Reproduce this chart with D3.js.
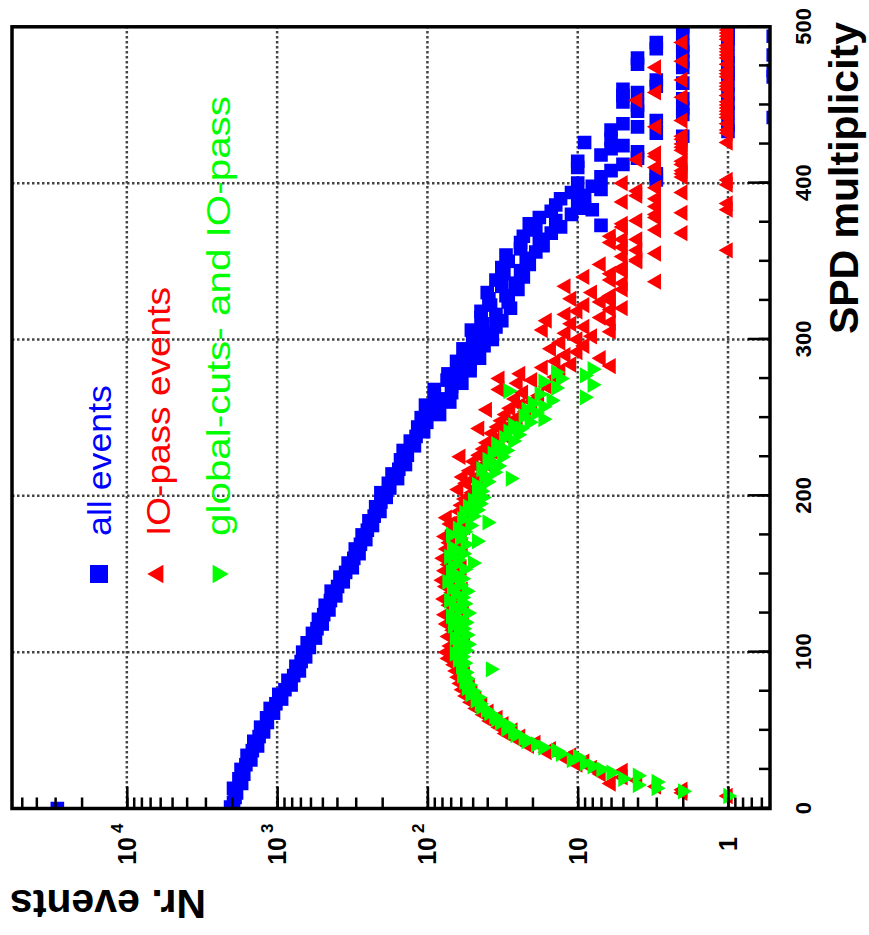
<!DOCTYPE html>
<html>
<head>
<meta charset="utf-8">
<script src="https://cdn.jsdelivr.net/npm/d3@7"></script>
<style>
  body { margin: 0; background: #fff; }
  text { font-family: "Liberation Sans", Arial, Helvetica, sans-serif; }
</style>
</head>
<body>
<svg id="chart" width="869" height="935"></svg>
<script>
// axis values
const xTicks = [0, 100, 200, 300, 400, 500];
const xGrid = [100, 200, 300, 400];
const yTicks = [1, 10, 100, 1000, 10000];
const yExp = ["", "", "2", "3", "4"];
const seriesNames = ["all events", "IO-pass events", "global-cuts- and IO-pass"];

// [SPD multiplicity, Nr. events]
const allEvents = [[0,29000],
[1,2040],[4,1950],[7,1905],[10,1862],[13,1950],[16,1722],[19,1795],[22,1667],[25,1738],[28,1614],[31,1496],[34,1585],[37,1462],[40,1349],[43,1429],[46,1318],[49,1230],[52,1288],[55,1161],[58,1175],[61,1057],[64,1112],[67,1019],[70,933],[73,975],[76,887],[79,807],[82,847],[85,776],[88,711],[91,750],[94,692],[97,646],[100,676],[103,610],[106,631],[109,556],[112,582],[115,543],[118,501],[121,531],[124,490],[127,452],[130,479],[133,442],[136,407],[139,437],[142,396],[145,363],[148,382],[151,350],[154,316],[157,337],[160,309],[163,285],[166,302],[169,279],[172,257],[175,272],[178,251],[181,232],[184,245],[187,226],[190,207],[193,221],[196,204],[199,188],[202,204],[205,178],[208,182],[211,158],[214,172],[217,155],[220,140],[223,151],[226,136],[229,145],[232,122],[235,130],[238,119],[241,106],[244,116],[247,101],
[250,110],[252,83],[254,97],[256,84],[258,103],[260,71],[262,82],[264,90],[266,69],[268,90],[270,69],[272,59],[274,74],[276,61],[278,73],[280,52],[282,61],[284,52],[286,64],[288,45],[290,56],[292,49],[294,58],[296,42],[298,48],[300,37],[302,50],[304,41],[306,51],[308,35],[310,43],[312,32],[314,44],[316,35],[318,44],[320,28],[322,38],[324,29],[326,39],[328,30],[330,40],[332,25],[334,32],[336,26],[338,35],[340,23],[342,31],[344,24],[346,32],[348,21],[350,29],[352,22],[354,30],[356,19],[358,24],[360,17],[362,24],[364,18],[366,23],[368,15],[370,19],[372,13],[373,7],[374,21],[376,14],[378,18],[380,11],[382,15],[383,8],[384,9],[386,14],[388,10],[390,13],[392,9],[394,11],[396,7],[398,8],[400,10],
[402,3],[404,7],[405,3],[406,3],[408,6],[410,10],[412,5],[414,10],[416,4],[418,7],[420,4],[422,6],[424,5],[426,9],[428,6],[430,2],[432,3],[433,1],[434,6],[436,4],[437,1],[438,5],[440,3],[442,0],[444,2],[445,1],[446,4],[448,2],[450,4],[451,1],[452,5],[454,2],[456,5],[457,1],[458,4],[460,5],[462,3],[463,1],[464,2],[466,3],[468,0],[470,1],[471,1],[472,0],[474,2],[476,4],[477,1],[478,2],[480,4],[481,1],[482,0],[484,2],[486,3],[488,2],[489,1],[490,3],[492,1],[494,0],[495,1],[496,2],[498,1],[499,1],[500,2]];

const ioPass = [
[8,1],[10,2],[12,2],[14,3],[16,6],[18,4],[20,5],[22,7],[24,5],[26,8],[28,10],[30,9],[32,12],[34,11],[36,16],[38,15],[40,21],[42,19],[44,25],[46,24],[48,30],[50,27],[52,33],[54,31],[56,38],[58,34],[60,42],[62,39],[64,47],[66,43],[68,51],[70,47],[72,55],[74,50],[76,58],[78,52],[80,60],[82,55],[84,62],[86,56],[88,64],[90,58],[92,66],[94,60],[96,72],[98,63],[100,74],
[102,59],[104,70],[106,56],[108,64],[110,72],[112,58],[114,67],[116,61],[118,74],[120,59],[122,68],[124,76],[126,57],[128,65],[130,71],[132,60],[134,77],[136,63],[138,68],[140,58],[142,75],[144,65],[146,79],[148,62],[150,69],[152,76],[154,59],[156,72],[158,66],[160,78],[162,61],[164,68],[166,74],[168,58],[170,71],[172,64],[174,76],[176,59],[178,67],[180,56],[182,70],[184,63],[186,74],[188,54],[190,61],[192,52],[194,59],[196,50],[198,56],[200,50],
[202,50],[204,62],[206,46],[208,55],[210,48],[212,58],[214,43],[216,52],[218,45],[220,40],[222,49],[224,38],[225,60],[226,45],[228,36],[230,42],[232,33],[234,40],[236,35],[238,30],[240,37],[242,31],[243,45],[244,34],[246,27],[248,32],[250,25],[252,30],[254,22],[255,40],[256,28],[258,24],[260,20],[262,26],[264,18],[266,23],[268,33],[270,16],[272,25],[274,20],[275,33],[276,14],[278,24],[280,13],[282,17],[283,6],[284,11],[286,14],[288,7],[290,12],[292,10],[294,15],[296,9],[298,13],[300,10],
[302,8],[304,12],[305,6],[306,17],[308,9],[310,11],[311,6],[312,16],[314,7],[316,12],[318,10],[319,6],[320,5],[322,9],[324,7],[325,6],[326,11],[328,6],
[330,8],[332,5],[334,12],[336,5],[337,3],[338,6],[340,9],[342,6],[344,5],[346,5],[348,7],[350,4],[351,4],[353,5],[355,3],[357,1],[357,4],[359,5],[362,6],[364,4],[364,5],[366,6],[368,2],[370,3],[372,5],[374,5],[376,4],[378,3],[380,3],[381,2],[383,1],[385,3],[387,1],[388,5],[390,3],[392,4],[394,2],[395,4],[397,3],[399,1],[400,5],[402,1],[404,2],[406,2],[408,2],[410,3],[412,2],[414,2],[415,4],[417,3],[419,3],[421,2],[423,2],[425,2],[426,1],[428,2],[430,2],[432,1],[434,1],[436,3],[438,1],[440,2],[442,1],[444,1],[446,1],[448,1],[450,1],[452,1],[453,4],[455,2],[456,1],[458,3],[460,1],[462,1],[464,1],[466,2],[468,1],[470,1],[472,1],[474,3],[476,1],[478,2],[480,1],[482,1],[484,1],[486,1],[488,1],[490,2],[492,1],[494,1],[496,1],[498,1],[500,1]];

const globalCuts = [
[8,1],[11,2],[13,3],[15,4],[17,3],[19,5],[21,4],[23,6],[25,7],[27,8],[29,9],[31,11],[33,10],[35,13],[37,14],[39,17],[41,19],[43,22],[45,23],[47,26],[49,27],[51,30],[53,29],[55,33],[57,35],[59,36],[61,39],[63,41],[65,44],[67,45],[69,48],[71,46],[73,52],[75,50],[77,55],[79,53],[81,57],[83,55],[85,59],[87,56],[89,38],[91,60],[93,57],[95,63],[97,59],[99,66],
[101,56],[103,63],[105,54],[107,60],[109,66],[111,55],[113,62],[115,58],[117,68],[119,56],[121,63],[123,70],[125,54],[127,61],[129,67],[131,57],[133,72],[135,59],[137,65],[139,55],[141,69],[143,61],[145,74],[147,59],[149,66],[151,70],[153,57],[155,68],[157,50],[159,63],[161,72],[163,58],[165,65],[167,69],[169,56],[171,47],[173,61],[175,70],[177,57],[179,63],[181,52],[183,40],[185,59],[187,50],[189,57],[191,47],[193,54],[195,45],[197,50],[199,43],
[201,47],[203,44],[205,46],[207,47],[209,40],[211,28],[213,42],[215,36],[217,44],[219,34],[221,39],[223,40],[225,32],[227,37],[229,30],[231,34],[233,35],[235,27],[237,31],[239,25],[241,29],[243,24],[245,27],[247,21],[249,17],[251,23],[253,19],[255,22],[257,17],[259,20],[261,15],[263,9],[265,18],[267,29],[269,14],[271,8],[273,17],[275,13],[277,9],[279,14],[281,8]];

const W = 935, H = 869;          // frame before rotation
const plotX0 = 126.5, plotX1 = 908.2, plotY0 = 12, plotY1 = 770;

const svg = d3.select("#chart");
svg.append("rect").attr("width", 869).attr("height", 935).attr("fill", "#fff");

// whole chart is drawn normally, then turned a quarter to the left
const g = svg.append("g").attr("transform", `translate(0,${W}) rotate(-90)`);

const x = d3.scaleLinear().domain([0, 500]).range([plotX0, plotX1]);
const y = d3.scaleLog().domain([0.5255, 58080]).range([plotY1, plotY0]);

g.append("clipPath").attr("id", "clip")
  .append("rect")
    .attr("x", plotX0).attr("y", plotY0)
    .attr("width", plotX1 - plotX0).attr("height", plotY1 - plotY0);

// grid
const grid = g.append("g")
  .attr("stroke", "#444")
  .attr("stroke-width", 2.5)
  .attr("stroke-dasharray", "2.5,2.5");
grid.selectAll(".gx").data(xGrid).join("line")
  .attr("x1", d => x(d)).attr("x2", d => x(d))
  .attr("y1", plotY0).attr("y2", plotY1);
grid.selectAll(".gy").data(yTicks).join("line")
  .attr("x1", plotX0).attr("x2", plotX1)
  .attr("y1", d => y(d)).attr("y2", d => y(d));

// markers
const plot = g.append("g").attr("clip-path", "url(#clip)");
const square = d3.symbol().type(d3.symbolSquare).size(185);
const tri = d3.symbol().type(d3.symbolTriangle).size(115);
const pos = d => `translate(${x(d[0])},${y(Math.max(d[1], 0.5))})`;

plot.append("g").selectAll("path").data(allEvents).join("path")
  .attr("d", square).attr("transform", pos).attr("fill", "#0000ff");
plot.append("g").selectAll("path").data(ioPass).join("path")
  .attr("d", tri).attr("transform", pos).attr("fill", "#ff0000");
plot.append("g").selectAll("path").data(globalCuts).join("path")
  .attr("d", tri).attr("transform", d => pos(d) + " rotate(180)").attr("fill", "#00ff00");

// x axis (ticks point inward)
const tickStyle = s => {
  s.select(".domain").remove();
  s.selectAll("line").attr("stroke", "#000").attr("stroke-width", 2.5);
};
g.append("g").attr("transform", `translate(0,${plotY1})`)
  .call(d3.axisBottom(x).tickValues(d3.range(0, 501, 25)).tickSize(-11).tickFormat(""))
  .call(tickStyle);
g.append("g").attr("transform", `translate(0,${plotY1})`)
  .call(d3.axisBottom(x).tickValues(xTicks).tickSize(-22).tickPadding(25))
  .call(tickStyle)
  .call(s => s.selectAll("text")
    .attr("fill", "#000").attr("font-size", 22).attr("font-weight", "bold")
    .style("font-family", "'Liberation Sans', Arial, sans-serif"));

// y axis, log
const minorY = [];
[-1, 0, 1, 2, 3, 4].forEach(e => d3.range(1, 10).forEach(m => {
  const v = m * Math.pow(10, e);
  if (v >= 0.53 && v <= 58000) minorY.push(v);
}));
g.append("g").attr("transform", `translate(${plotX0},0)`)
  .call(d3.axisLeft(y).tickValues(minorY).tickSize(-11).tickFormat(""))
  .call(tickStyle);
g.append("g").attr("transform", `translate(${plotX0},0)`)
  .call(d3.axisLeft(y).tickValues(yTicks).tickSize(-22).tickFormat(""))
  .call(tickStyle);

const yLab = g.append("g").attr("font-weight", "bold").attr("fill", "#000");
yLab.selectAll(".base").data(yTicks).join("text")
  .attr("x", 98).attr("y", d => y(d)).attr("dy", "0.36em")
  .attr("text-anchor", "end").attr("font-size", 25)
  .text(d => d === 1 ? "1" : "10");
yLab.selectAll(".exp").data(yTicks.filter((d, i) => yExp[i])).join("text")
  .attr("x", 102).attr("y", d => y(d) - 10).attr("dy", "0.36em")
  .attr("font-size", 17)
  .text(d => yExp[yTicks.indexOf(d)]);

// axis titles
g.append("text")
  .attr("x", 913).attr("y", 858)
  .attr("text-anchor", "end").attr("font-size", 41).attr("font-weight", "bold")
  .text("SPD multiplicity");
g.append("text")
  .attr("transform", "translate(45,10) rotate(-90)")
  .attr("text-anchor", "end").attr("font-size", 41).attr("font-weight", "bold")
  .text("Nr. events");

// legend
const legRows = [99, 158, 218];
const legColors = ["#0000ff", "#ff0000", "#00ff00"];
const legLen = [151, 249, 440];
const legSym = [
  d3.symbol().type(d3.symbolSquare).size(324)(),
  d3.symbol().type(d3.symbolTriangle).size(150)(),
  d3.symbol().type(d3.symbolTriangle).size(150)()
];
const leg = g.append("g");
leg.selectAll("path").data(seriesNames).join("path")
  .attr("d", (d, i) => legSym[i])
  .attr("transform", (d, i) => `translate(361,${legRows[i]})` + (i === 2 ? " rotate(180)" : ""))
  .attr("fill", (d, i) => legColors[i]);
leg.selectAll("text").data(seriesNames).join("text")
  .attr("x", 399).attr("y", (d, i) => legRows[i] + 12)
  .attr("font-size", 33)
  .attr("fill", (d, i) => legColors[i])
  .attr("textLength", (d, i) => legLen[i])
  .attr("lengthAdjust", "spacingAndGlyphs")
  .text(d => d);

// frame
g.append("rect")
  .attr("x", plotX0).attr("y", plotY0)
  .attr("width", plotX1 - plotX0).attr("height", plotY1 - plotY0)
  .attr("fill", "none").attr("stroke", "#000").attr("stroke-width", 3.5);
</script>
</body>
</html>
